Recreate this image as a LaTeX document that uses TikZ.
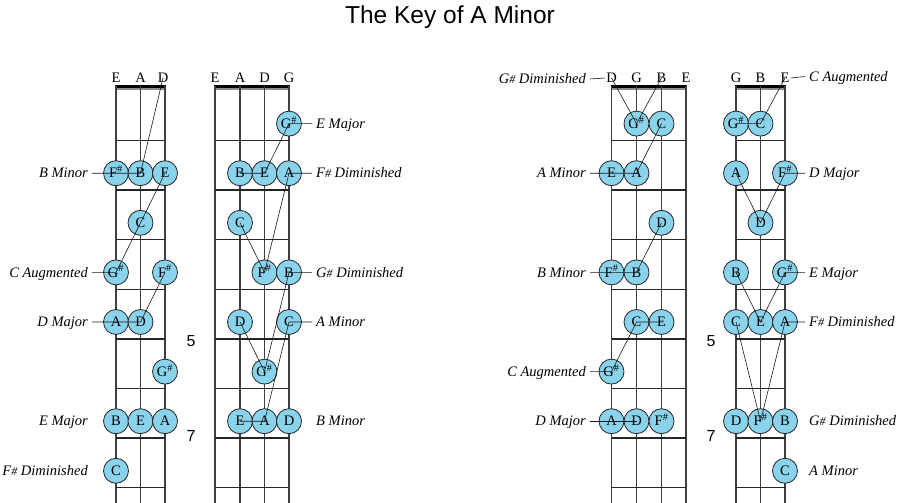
\documentclass[tikz,border=0pt]{standalone}
\usepackage{fontspec}
\setmainfont{Liberation Serif}
\newfontfamily\headfont{Liberation Sans}
\usepackage{tikz}
\definecolor{notefill}{RGB}{137,211,236}
\tikzstyle{string}=[draw=black!75, line width=1.4pt]
\tikzstyle{fret}=[draw=black!85, line width=1.4pt]
\tikzstyle{note}=[circle, draw=black!85, line width=0.8pt, fill=notefill, inner sep=0pt, minimum size=25pt, text height=9.5pt, text depth=0pt, font=\fontsize{14.5}{16}\selectfont]
\tikzstyle{strname}=[inner sep=1pt, text height=9.5pt, text depth=0pt, font=\fontsize{14.5}{16}\selectfont]
\tikzstyle{chord}=[inner xsep=4pt, inner ysep=0pt, text height=9.5pt, text depth=0pt, font=\fontsize{14.5}{16}\selectfont\itshape]
\tikzstyle{link}=[draw=black!90, line width=0.6pt]
\tikzstyle{fretnum}=[font=\headfont\fontsize{16}{18}\selectfont]
\newcommand{\shp}{\textsuperscript{\#}}
\newcommand{\lsh}{{\fontsize{12}{12}\selectfont\#}}

\begin{document}
\begin{tikzpicture}[x=1pt, y=-1pt]
    \useasboundingbox (0,0) rectangle (900,503);
    \node[font=\headfont\fontsize{24.5}{28}\selectfont] (title) at (450,17) {The Key of A Minor};

    % left neck, three strings
    \draw[line width=2.8pt] (115,86.2) -- (166,86.2);
    \draw[line width=2pt, black!45] (115,89) -- (166,89);
    \foreach \x in {116,140.5,165} \draw[string] (\x,86) -- (\x,503);
    \foreach \y in {140.4,190,239.6,289.2,338.8,388.4,438,487.6} \draw[fret] (116,\y) -- (165,\y);
    \node[strname] (a-E) at (116,78) {E};
    \node[strname] (a-A) at (140.5,78) {A};
    \node[strname] (a-D) at (163,78) {D};

    % left neck, four strings
    \draw[line width=2.8pt] (214,86.2) -- (290,86.2);
    \draw[line width=2pt, black!45] (214,89) -- (290,89);
    \foreach \x in {215,240,264.5,289} \draw[string] (\x,86) -- (\x,503);
    \foreach \y in {140.4,190,239.6,289.2,338.8,388.4,438,487.6} \draw[fret] (215,\y) -- (289,\y);
    \node[strname] (b-E) at (215,78) {E};
    \node[strname] (b-A) at (240,78) {A};
    \node[strname] (b-D) at (264.5,78) {D};
    \node[strname] (b-G) at (289,78) {G};

    % right neck, four strings
    \draw[line width=2.8pt] (610.5,86.2) -- (687,86.2);
    \draw[line width=2pt, black!45] (610.5,89) -- (687,89);
    \foreach \x in {611.5,636.5,661.5,686} \draw[string] (\x,86) -- (\x,503);
    \foreach \y in {140.4,190,239.6,289.2,338.8,388.4,438,487.6} \draw[fret] (611.5,\y) -- (686,\y);
    \node[strname] (c-D) at (611.5,78) {D};
    \node[strname] (c-G) at (636.5,78) {G};
    \node[strname] (c-B) at (661.5,78) {B};
    \node[strname] (c-E) at (686,78) {E};

    % right neck, three strings
    \draw[line width=2.8pt] (735,86.2) -- (786,86.2);
    \draw[line width=2pt, black!45] (735,89) -- (786,89);
    \foreach \x in {736,760.5,785} \draw[string] (\x,86) -- (\x,503);
    \foreach \y in {140.4,190,239.6,289.2,338.8,388.4,438,487.6} \draw[fret] (736,\y) -- (785,\y);
    \node[strname] (d-G) at (736,78) {G};
    \node[strname] (d-B) at (760.5,78) {B};
    \node[strname] (d-E) at (785,78) {E};

    \node[fretnum] (n5l) at (191,341) {5};
    \node[fretnum] (n7l) at (191,436) {7};
    \node[fretnum] (n5r) at (711,341) {5};
    \node[fretnum] (n7r) at (711,436) {7};

    % notes
    \node[note] (a-1-2) at (116,173.2) {F\shp};
    \node[note] (a-2-2) at (140.5,173.2) {B};
    \node[note] (a-3-2) at (165,173.2) {E};
    \node[note] (a-2-3) at (140.5,222.8) {C};
    \node[note] (a-1-4) at (116,272.4) {G\shp};
    \node[note] (a-3-4) at (165,272.4) {F\shp};
    \node[note] (a-1-5) at (116,322) {A};
    \node[note] (a-2-5) at (140.5,322) {D};
    \node[note] (a-3-6) at (165,371.6) {G\shp};
    \node[note] (a-1-7) at (116,421.2) {B};
    \node[note] (a-2-7) at (140.5,421.2) {E};
    \node[note] (a-3-7) at (165,421.2) {A};
    \node[note] (a-1-8) at (116,470.8) {C};

    \node[note] (b-4-1) at (289,123.6) {G\shp};
    \node[note] (b-2-2) at (240,173.2) {B};
    \node[note] (b-3-2) at (264.5,173.2) {E};
    \node[note] (b-4-2) at (289,173.2) {A};
    \node[note] (b-2-3) at (240,222.8) {C};
    \node[note] (b-3-4) at (264.5,272.4) {F\shp};
    \node[note] (b-4-4) at (289,272.4) {B};
    \node[note] (b-2-5) at (240,322) {D};
    \node[note] (b-4-5) at (289,322) {C};
    \node[note] (b-3-6) at (264.5,371.6) {G\shp};
    \node[note] (b-2-7) at (240,421.2) {E};
    \node[note] (b-3-7) at (264.5,421.2) {A};
    \node[note] (b-4-7) at (289,421.2) {D};

    \node[note] (c-2-1) at (636.5,123.6) {G\shp};
    \node[note] (c-3-1) at (661.5,123.6) {C};
    \node[note] (c-1-2) at (611.5,173.2) {E};
    \node[note] (c-2-2) at (636.5,173.2) {A};
    \node[note] (c-3-3) at (661.5,222.8) {D};
    \node[note] (c-1-4) at (611.5,272.4) {F\shp};
    \node[note] (c-2-4) at (636.5,272.4) {B};
    \node[note] (c-2-5) at (636.5,322) {C};
    \node[note] (c-3-5) at (661.5,322) {E};
    \node[note] (c-1-6) at (611.5,371.6) {G\shp};
    \node[note] (c-1-7) at (611.5,421.2) {A};
    \node[note] (c-2-7) at (636.5,421.2) {D};
    \node[note] (c-3-7) at (661.5,421.2) {F\shp};

    \node[note] (d-1-1) at (736,123.6) {G\shp};
    \node[note] (d-2-1) at (760.5,123.6) {C};
    \node[note] (d-1-2) at (736,173.2) {A};
    \node[note] (d-3-2) at (785,173.2) {F\shp};
    \node[note] (d-2-3) at (760.5,222.8) {D};
    \node[note] (d-1-4) at (736,272.4) {B};
    \node[note] (d-3-4) at (785,272.4) {G\shp};
    \node[note] (d-1-5) at (736,322) {C};
    \node[note] (d-2-5) at (760.5,322) {E};
    \node[note] (d-3-5) at (785,322) {A};
    \node[note] (d-1-7) at (736,421.2) {D};
    \node[note] (d-2-7) at (760.5,421.2) {F\shp};
    \node[note] (d-3-7) at (785,421.2) {B};
    \node[note] (d-3-8) at (785,470.8) {C};

    % chord names
    \node[chord, anchor=east] (a-bmin) at (92,173.2) {B Minor};
    \node[chord, anchor=east] (a-caug) at (92,272.4) {C Augmented};
    \node[chord, anchor=east] (a-dmaj) at (92,322) {D Major};
    \node[chord, anchor=east] (a-emaj) at (92,421.2) {E Major};
    \node[chord, anchor=east] (a-fdim) at (92,470.8) {F\lsh{} Diminished};

    \node[chord, anchor=west] (b-emaj) at (312,123.6) {E Major};
    \node[chord, anchor=west] (b-fdim) at (312,173.2) {F\lsh{} Diminished};
    \node[chord, anchor=west] (b-gdim) at (312,272.4) {G\lsh{} Diminished};
    \node[chord, anchor=west] (b-amin) at (312,322) {A Minor};
    \node[chord, anchor=west] (b-bmin) at (312,421.2) {B Minor};

    \node[chord, anchor=east] (c-gdim) at (590,79) {G\lsh{} Diminished};
    \node[chord, anchor=east] (c-amin) at (590,173.2) {A Minor};
    \node[chord, anchor=east] (c-bmin) at (590,272.4) {B Minor};
    \node[chord, anchor=east] (c-caug) at (590,371.6) {C Augmented};
    \node[chord, anchor=east] (c-dmaj) at (590,421.2) {D Major};

    \node[chord, anchor=west] (d-caug) at (805,76.5) {C Augmented};
    \node[chord, anchor=west] (d-dmaj) at (805,173.2) {D Major};
    \node[chord, anchor=west] (d-emaj) at (805,272.4) {E Major};
    \node[chord, anchor=west] (d-fdim) at (805,322) {F\lsh{} Diminished};
    \node[chord, anchor=west] (d-gdim) at (805,421.2) {G\lsh{} Diminished};
    \node[chord, anchor=west] (d-amin) at (805,470.8) {A Minor};

    % chord shapes
    \draw[link] (a-bmin.east) -- (a-1-2.center) -- (a-2-2.center) -- (a-D.center);
    \draw[link] (a-caug.east) -- (a-1-4.center) -- (a-2-3.center) -- (a-3-2.center);
    \draw[link] (a-dmaj.east) -- (a-1-5.center) -- (a-2-5.center) -- (a-3-4.center);

    \draw[link] (b-emaj.west) -- (b-4-1.center) -- (b-3-2.center) -- (b-2-2.center);
    \draw[link] (b-fdim.west) -- (b-4-2.center) -- (b-3-4.center) -- (b-2-3.center);
    \draw[link] (b-gdim.west) -- (b-4-4.center) -- (b-3-6.center) -- (b-2-5.center);
    \draw[link] (b-amin.west) -- (b-4-5.center) -- (b-3-7.center) -- (b-2-7.center);

    \draw[link] (c-gdim.east) -- (c-D.west);
    \draw[link] (c-D.center) -- (c-2-1.center) -- (c-B.center);
    \draw[link] (c-amin.east) -- (c-1-2.center) -- (c-2-2.center) -- (c-3-1.center);
    \draw[link] (c-bmin.east) -- (c-1-4.center) -- (c-2-4.center) -- (c-3-3.center);
    \draw[link] (c-caug.east) -- (c-1-6.center) -- (c-2-5.center) -- (c-3-5.center);
    \draw[link] (c-dmaj.east) -- (c-1-7.center) -- (c-2-7.center);

    \draw[link] (d-caug.west) -- (d-E.east);
    \draw[link] (d-E.center) -- (d-2-1.center) -- (d-1-1.center);
    \draw[link] (d-dmaj.west) -- (d-3-2.center) -- (d-2-3.center) -- (d-1-2.center);
    \draw[link] (d-emaj.west) -- (d-3-4.center) -- (d-2-5.center) -- (d-1-4.center);
    \draw[link] (d-fdim.west) -- (d-3-5.center) -- (d-2-7.center) -- (d-1-5.center);
\end{tikzpicture}
\end{document}
